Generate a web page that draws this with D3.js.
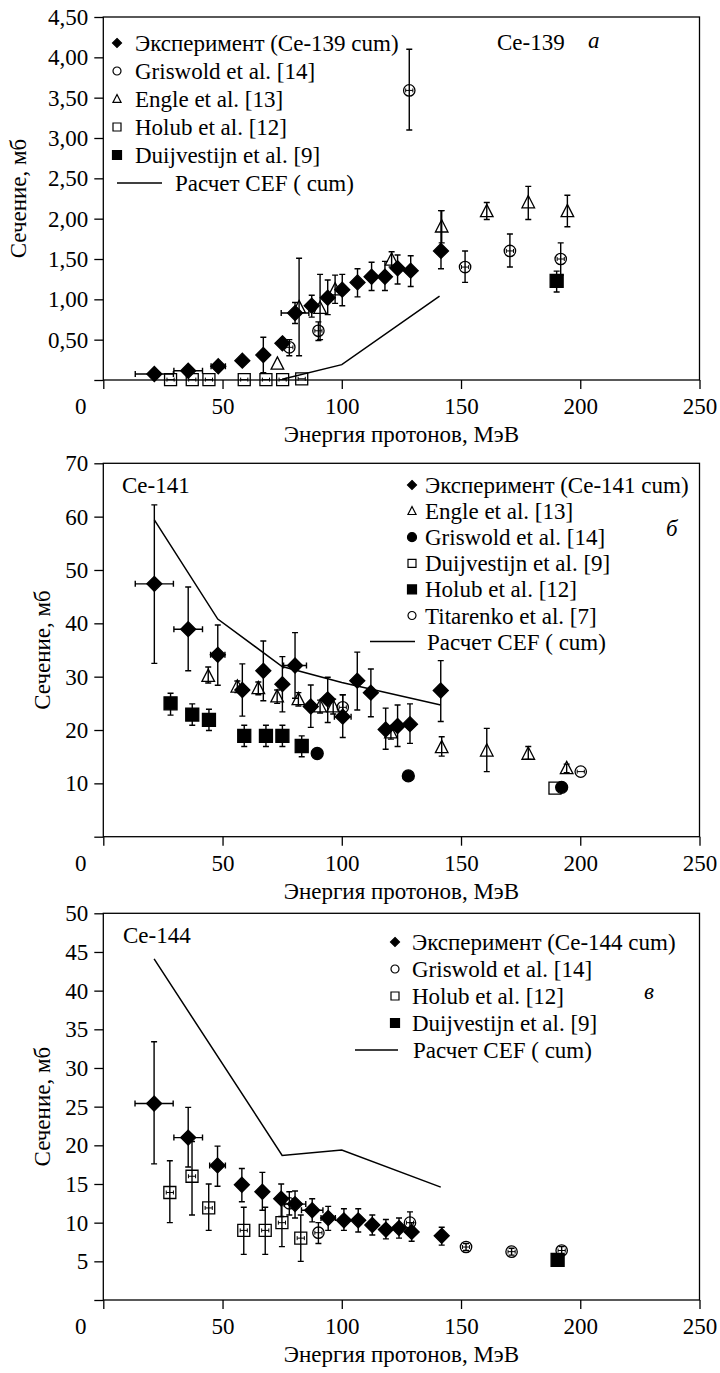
<!DOCTYPE html>
<html>
<head>
<meta charset="utf-8">
<script src="https://cdn.jsdelivr.net/npm/d3@7"></script>
<style>
  body { margin: 0; background: #fff; }
  svg text { font-family: 'Liberation Serif', 'Times New Roman', serif; font-size: 23px; fill: #000; }
</style>
</head>
<body>
<svg id="chart" width="720" height="1373"></svg>
<script>
// tick labels of the energy axis
const energyTicks = [0, 50, 100, 150, 200, 250];

// points are [energy, value, errLow, errHigh, xErr]
// ---- Ce-139 ----
const ce139Exp = [
  [21.4, 0.074, null, null, 8], [35.6, 0.115, null, null, 6], [48.2, 0.17, null, null, 3],
  [58.3, 0.24, null, null, 0], [67.1, 0.31, 0.09, 0.53, 0], [75.1, 0.455, 0.41, 0.50, 0],
  [80.4, 0.83, 0.70, 0.96, 5.8], [87.4, 0.92, 0.78, 1.05, 1.5], [94.1, 1.02, 0.81, 1.24, 1.5],
  [100.2, 1.12, 0.92, 1.31, 0], [106.6, 1.21, 1.03, 1.38, 0], [112.5, 1.28, 1.11, 1.46, 0],
  [118.1, 1.28, 1.11, 1.47, 0], [123.4, 1.385, 1.19, 1.55, 0], [128.9, 1.355, 1.16, 1.54, 0],
  [141.6, 1.60, 1.38, 2.10, 0]
];
const ce139Griswold = [
  [78.0, 0.405, 0.30, 0.50, 1.5], [90.2, 0.61, 0.49, 0.72, 1.5], [128.3, 3.59, 3.10, 4.10, 1.5],
  [151.7, 1.40, 1.21, 1.60, 1.5], [170.5, 1.60, 1.40, 1.81, 1.5], [191.8, 1.50, 1.30, 1.70, 1.5]
];
const ce139Engle = [
  [73.0, 0.20, null, null, 0], [82.1, 0.90, 0.30, 1.51, 0], [90.9, 0.89, 0.50, 1.31, 0],
  [97.2, 1.12, 0.95, 1.30, 0], [120.9, 1.49, 1.40, 1.59, 0], [141.9, 1.90, 1.70, 2.10, 0],
  [160.8, 2.09, 1.99, 2.20, 0], [178.2, 2.20, 1.99, 2.40, 0], [194.6, 2.09, 1.90, 2.29, 0]
];
const ce139Holub = [
  [28.2, 0.005, null, null, 1.5], [37.3, 0.005, null, null, 1.5], [44.3, 0.005, null, null, 1.5],
  [59.1, 0.005, null, null, 1.5], [68.2, 0.005, null, null, 1.5], [75.2, 0.005, null, null, 1.5],
  [83.2, 0.015, null, null, 1.5]
];
const ce139Duij = [[190.1, 1.23, 1.09, 1.35, 0]];
const ce139Cef = [[75, 0.01], [100, 0.19], [141, 1.04]];

// ---- Ce-141 ----
const ce141Exp = [
  [21.4, 47.4, 32.5, 62.2, 8], [35.6, 38.9, 31.1, 46.8, 6], [48.0, 34.1, 28.4, 39.7, 3],
  [58.3, 27.5, 22.6, 32.4, 0], [67.1, 31.1, 25.5, 36.7, 0], [75.1, 28.6, 23.4, 33.75, 0],
  [80.4, 32.1, 25.95, 38.25, 4.8], [87.0, 24.4, 20.5, 28.45, 0], [94.1, 25.75, 21.4, 29.9, 0],
  [100.4, 22.5, 18.6, 26.6, 3.5], [106.5, 29.25, 23.75, 34.6, 0], [112.2, 27.0, 22.5, 31.45, 0],
  [118.4, 20.1, 16.4, 24.1, 0], [123.4, 20.75, 16.9, 24.7, 0], [128.6, 21.1, 17.5, 24.9, 0],
  [141.5, 27.4, 21.6, 33.0, 0]
];
const ce141Engle = [
  [44.0, 30.1, 28.8, 31.8, 0], [56.2, 28.1, 27.0, 29.2, 0], [65.0, 27.8, 26.6, 29.0, 0],
  [72.9, 26.25, 25.0, 27.5, 0], [81.8, 25.75, 24.5, 27.0, 0], [90.9, 24.4, 23.2, 25.6, 0],
  [96.4, 24.4, 23.0, 25.8, 0], [120.6, 19.5, 18.3, 20.7, 0], [141.9, 16.75, 15.1, 18.75, 0],
  [160.8, 16.1, 12.2, 20.3, 0], [178.2, 15.5, 14.5, 16.9, 0], [194.3, 12.8, 12.0, 13.6, 0]
];
const ce141Griswold = [[89.7, 15.6, null, null, 0], [127.9, 11.4, null, null, 0], [192.2, 9.25, null, null, 0]];
const ce141Duij = [[189.4, 9.1, null, null, 0]];
const ce141Holub = [
  [28.2, 25.0, 22.8, 26.9, 0], [37.3, 22.9, 20.9, 24.9, 0], [44.3, 21.9, 19.9, 23.9, 0],
  [59.1, 18.9, 16.9, 20.9, 0], [68.2, 18.9, 16.9, 20.9, 0], [75.1, 18.9, 16.9, 20.9, 0],
  [83.2, 17.0, 15.0, 18.9, 0]
];
const ce141Titarenko = [[100.4, 24.25, 21.9, 26.6, 1.5], [200.2, 12.2, null, null, 1.5]];
const ce141Cef = [[21.4, 59.4], [48, 40.8], [75, 31.9], [100, 28.9], [141.5, 24.7]];

// ---- Ce-144 ----
const ce144Exp = [
  [21.3, 25.4, 17.6, 33.4, 8], [35.6, 21.0, 17.2, 24.9, 6], [47.9, 17.4, 14.7, 19.9, 3.3],
  [58.1, 14.9, 12.7, 17.0, 0], [66.7, 14.0, 11.6, 16.5, 0], [74.6, 13.1, 10.8, 15.0, 0],
  [80.4, 12.4, 10.6, 14.1, 4.5], [87.6, 11.6, 10.1, 13.1, 4.5], [94.3, 10.6, 9.0, 12.1, 3],
  [100.9, 10.3, 9.0, 11.8, 0], [106.9, 10.3, 8.8, 11.8, 0], [112.8, 9.7, 8.4, 11.0, 0],
  [118.5, 9.1, 7.9, 10.4, 0], [124.0, 9.3, 8.0, 10.6, 0], [129.3, 8.8, 7.6, 10.0, 0],
  [141.9, 8.3, 7.1, 9.4, 0]
];
const ce144Griswold = [
  [78.0, 12.5, 11.0, 14.0, 1.5], [90.2, 8.7, 7.3, 10.0, 1.5], [128.6, 10.0, 9.1, 11.4, 1.5],
  [152.1, 6.85, 6.4, 7.3, 1.5], [171.2, 6.25, 5.8, 6.7, 1.5], [192.2, 6.4, 5.9, 6.9, 1.5]
];
const ce144Holub = [
  [27.9, 13.9, 10.0, 18.0, 1.5], [37.2, 16.0, 11.0, 20.5, 1.5], [44.2, 11.9, 9.0, 15.0, 1.5],
  [58.9, 9.0, 5.9, 12.0, 1.5], [67.9, 9.0, 5.9, 12.0, 1.5], [74.9, 10.0, 6.9, 12.6, 1.5],
  [82.8, 8.0, 5.0, 11.0, 1.5]
];
const ce144Duij = [[190.5, 5.2, null, null, 0]];
const ce144Cef = [[21.3, 44.1], [75, 18.7], [100, 19.4], [141.5, 14.6]];

const svg = d3.select('#chart');
const plotLeft = 103.3, plotRight = 699.5;
const ink = '#000';
const serif = "'Liberation Serif', 'Times New Roman', serif";

// marker shapes, r is the half size
function markerPath(type, r) {
  if (type === 'diamond') return `M0,${-r}L${r},0L0,${r}L${-r},0Z`;
  if (type.startsWith('square')) return `M${-r},${-r}H${r}V${r}H${-r}Z`;
  if (type === 'triangle') return `M0,${-r}L${r * 0.9},${r * 0.75}L${-r * 0.9},${r * 0.75}Z`;
  return d3.arc()({ innerRadius: 0, outerRadius: r, startAngle: 0, endAngle: 2 * Math.PI });
}
const filled = t => t === 'diamond' || t === 'squareFilled' || t === 'circleFilled';
const plotSize = { diamond: 7.5, squareOpen: 6, squareFilled: 6.5, circleOpen: 5.7, circleFilled: 6, triangle: 7 };
const legendSize = { diamond: 4.5, squareOpen: 4, squareFilled: 4.5, circleOpen: 4, circleFilled: 4.5, triangle: 4.5 };

function drawPanel(p) {
  const x = d3.scaleLinear().domain([0, 250]).range([plotLeft, plotRight]);
  const y = d3.scaleLinear().domain([0, p.yMax]).range([p.bottom, p.top]);
  const g = svg.append('g');

  // axes
  const xa = g.append('g').attr('transform', `translate(0,${p.bottom})`)
    .call(d3.axisBottom(x).tickValues(energyTicks).tickSize(9).tickPadding(9).tickSizeOuter(0));
  xa.selectAll('text').filter(d => d === 0).attr('dx', -23);
  g.append('g').attr('transform', `translate(${plotLeft},0)`)
    .call(d3.axisLeft(y).tickValues(p.yTicks).tickSize(9).tickPadding(6).tickSizeOuter(0)
      .tickFormat(v => v === 0 ? '' : p.fmt(v)));
  g.selectAll('.domain').remove();
  g.selectAll('.tick line').attr('stroke', ink).attr('stroke-width', 1.3);
  g.append('rect').attr('x', plotLeft).attr('y', p.top)
    .attr('width', plotRight - plotLeft).attr('height', p.bottom - p.top)
    .attr('fill', 'none').attr('stroke', ink).attr('stroke-width', 1.3);

  // titles
  g.append('text').attr('x', (plotLeft + plotRight) / 2).attr('y', p.bottom + 54).attr('dy', '0.35em')
    .attr('text-anchor', 'middle').text('Энергия протонов, МэВ');
  g.append('text').attr('transform', `translate(${p.yTitleX},${(p.top + p.bottom) / 2}) rotate(-90)`)
    .attr('dy', '0.35em').attr('text-anchor', 'middle').text('Сечение, мб');
  g.append('text').attr('x', p.nameX).attr('y', p.nameY).attr('dy', '0.35em').text(p.name);
  g.append('text').attr('x', p.letterX).attr('y', p.letterY).attr('dy', '0.35em')
    .style('font-style', 'italic').text(p.letter);

  // calculation line
  g.append('path').datum(p.cef)
    .attr('d', d3.line().x(d => x(d[0])).y(d => y(d[1])))
    .attr('fill', 'none').attr('stroke', ink).attr('stroke-width', 1.5);

  // series: markers then error bars
  p.series.forEach(s => {
    const sg = g.append('g');
    sg.selectAll('path.m').data(s.data).enter().append('path').attr('class', 'm')
      .attr('transform', d => `translate(${x(d[0])},${y(d[1])})`)
      .attr('d', markerPath(s.type, plotSize[s.type]))
      .attr('fill', filled(s.type) ? ink : 'none')
      .attr('stroke', ink).attr('stroke-width', 1.3);
    const eb = sg.append('g').attr('stroke', ink).attr('stroke-width', 1.4).attr('fill', 'none');
    s.data.filter(d => d[2] != null).forEach(d => {
      const cx = x(d[0]), y1 = y(d[2]), y2 = y(d[3]);
      eb.append('path').attr('d', `M${cx},${y1}V${y2}M${cx - 3},${y1}H${cx + 3}M${cx - 3},${y2}H${cx + 3}`);
    });
    s.data.filter(d => d[4] > 0).forEach(d => {
      const cy = y(d[1]), x1 = x(d[0] - d[4]), x2 = x(d[0] + d[4]);
      const c = d[4] < 2 ? 2 : 3;
      eb.append('path').attr('d', `M${x1},${cy}H${x2}M${x1},${cy - c}V${cy + c}M${x2},${cy - c}V${cy + c}`)
        .attr('stroke-width', d[4] < 2 ? 1 : 1.4);
    });
  });

  // legend
  const lg = g.append('g');
  p.legend.forEach((e, i) => {
    const ly = p.legY + i * p.legStep;
    if (e[1] === 'line') {
      lg.append('line').attr('x1', p.lineX[0]).attr('x2', p.lineX[1]).attr('y1', ly).attr('y2', ly)
        .attr('stroke', ink).attr('stroke-width', 1.5);
      lg.append('text').attr('x', p.lineX[2]).attr('y', ly).attr('dy', '0.35em').text(e[0]);
    } else {
      lg.append('path').attr('transform', `translate(${p.legMarkX},${ly})`)
        .attr('d', markerPath(e[1], legendSize[e[1]]))
        .attr('fill', filled(e[1]) ? ink : 'none').attr('stroke', ink).attr('stroke-width', 1.2);
      lg.append('text').attr('x', p.legTextX).attr('y', ly).attr('dy', '0.35em').text(e[0]);
    }
  });
}

const commaFmt = v => d3.format('.2f')(v).replace('.', ',');

drawPanel({
  top: 17, bottom: 380, yMax: 4.5, yTicks: d3.range(0, 4.51, 0.5), fmt: commaFmt, yTitleX: 18,
  name: 'Ce-139', nameX: 497, nameY: 42, letter: 'а', letterX: 588, letterY: 40,
  cef: ce139Cef,
  series: [
    { data: ce139Holub, type: 'squareOpen' },
    { data: ce139Engle, type: 'triangle' },
    { data: ce139Griswold, type: 'circleOpen' },
    { data: ce139Duij, type: 'squareFilled' },
    { data: ce139Exp, type: 'diamond' }
  ],
  legend: [['Эксперимент (Ce-139 cum)', 'diamond'], ['Griswold et al. [14]', 'circleOpen'],
    ['Engle et al. [13]', 'triangle'], ['Holub et al. [12]', 'squareOpen'],
    ['Duijvestijn et al. [9]', 'squareFilled'], ['Расчет CEF ( cum)', 'line']],
  legY: 43, legStep: 28, legMarkX: 117, legTextX: 135, lineX: [117, 162, 175]
});

drawPanel({
  top: 463.3, bottom: 836.7, yMax: 70, yTicks: d3.range(0, 71, 10), fmt: v => v, yTitleX: 42,
  name: 'Ce-141', nameX: 122, nameY: 485, letter: 'б', letterX: 666, letterY: 528,
  cef: ce141Cef,
  series: [
    { data: ce141Holub, type: 'squareFilled' },
    { data: ce141Duij, type: 'squareOpen' },
    { data: ce141Griswold, type: 'circleFilled' },
    { data: ce141Engle, type: 'triangle' },
    { data: ce141Titarenko, type: 'circleOpen' },
    { data: ce141Exp, type: 'diamond' }
  ],
  legend: [['Эксперимент (Ce-141 cum)', 'diamond'], ['Engle et al. [13]', 'triangle'],
    ['Griswold et al. [14]', 'circleFilled'], ['Duijvestijn et al. [9]', 'squareOpen'],
    ['Holub et al. [12]', 'squareFilled'], ['Titarenko et al. [7]', 'circleOpen'],
    ['Расчет CEF ( cum)', 'line']],
  legY: 485, legStep: 26.1, legMarkX: 412, legTextX: 425, lineX: [370, 415, 427]
});

drawPanel({
  top: 913.3, bottom: 1300, yMax: 50, yTicks: d3.range(0, 51, 5), fmt: v => v, yTitleX: 42,
  name: 'Ce-144', nameX: 123, nameY: 935, letter: 'в', letterX: 644, letterY: 991,
  cef: ce144Cef,
  series: [
    { data: ce144Holub, type: 'squareOpen' },
    { data: ce144Griswold, type: 'circleOpen' },
    { data: ce144Duij, type: 'squareFilled' },
    { data: ce144Exp, type: 'diamond' }
  ],
  legend: [['Эксперимент (Ce-144 cum)', 'diamond'], ['Griswold et al. [14]', 'circleOpen'],
    ['Holub et al. [12]', 'squareOpen'], ['Duijvestijn et al. [9]', 'squareFilled'],
    ['Расчет CEF ( cum)', 'line']],
  legY: 942, legStep: 27, legMarkX: 395, legTextX: 412, lineX: [355, 398, 413]
});

// one serif face for every label, axis groups included
svg.selectAll('g').attr('font-family', null).attr('font-size', null);
svg.selectAll('text').style('font-family', serif).style('font-size', '23px');
</script>
</body>
</html>
